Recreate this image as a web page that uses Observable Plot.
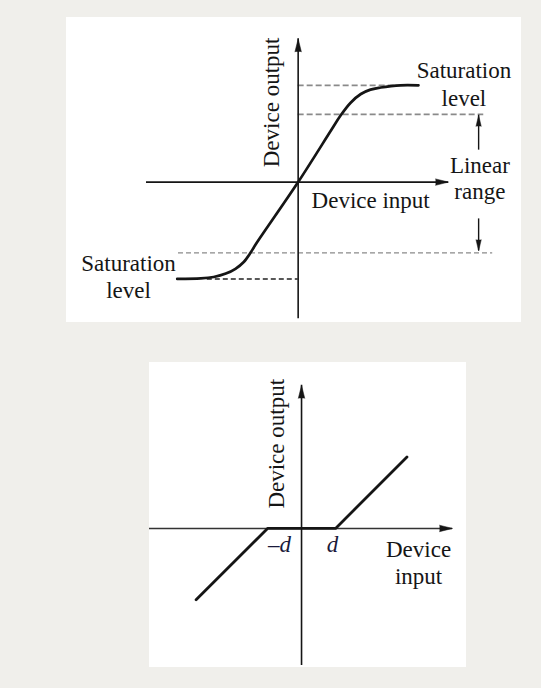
<!DOCTYPE html>
<html>
<head>
<meta charset="utf-8">
<script src="https://cdn.jsdelivr.net/npm/d3@7"></script>
<script src="https://cdn.jsdelivr.net/npm/@observablehq/plot@0.6"></script>
<style>
  html, body { margin: 0; padding: 0; background: #f0efeb; }
  #page { position: relative; width: 541px; height: 688px; background: #f0efeb; overflow: hidden; }
  .panel { position: absolute; background: #ffffff; }
  #top { left: 66px; top: 17px; width: 455px; height: 305px; }
  #bottom { left: 149px; top: 362px; width: 317px; height: 305px; }
  .panel svg { display: block; }
</style>
</head>
<body>
<div id="page">
  <div class="panel" id="top"></div>
  <div class="panel" id="bottom"></div>
</div>
<script>
// ---------- Top chart: saturation nonlinearity (normalized units) ----------
const topXDomain = [-3.62, 3.49];
const topYDomain = [-1.45, 1.70];
const satInput  = [-1.89, -1.52, -1.32, -1.13, -0.98, -0.85, -0.74, -0.66, 0, 0.51, 0.66, 0.82, 0.98, 1.13, 1.29, 1.45, 1.60, 1.88];
const satOutput = [-1.00, -0.995, -0.98, -0.945, -0.895, -0.825, -0.725, -0.64, 0, 0.53, 0.685, 0.82, 0.91, 0.955, 0.977, 0.992, 1.00, 1.00];
// upper dashed guide levels (gray)
const upperGuideLevel = [1.00, 0.70];
const upperGuideFrom  = [0.00, 0.00];
const upperGuideTo    = [1.55, 2.90];
// lower linear-range guide (gray, thin)
const lowerGuideLevel = [-0.73];
const lowerGuideFrom  = [-1.87];
const lowerGuideTo    = [3.04];
// lower saturation guide (dark)
const lowSatLevel = [-1.00];
const lowSatFrom  = [-1.42];
const lowSatTo    = [0.00];
// axes extents
const topAxisX = [-2.37, 2.35];
const topAxisY = [-1.41, 1.48];
// linear-range arrows
const rangeArrowX    = [2.82, 2.82];
const rangeArrowFrom = [0.33, -0.38];
const rangeArrowTo   = [0.69, -0.71];
const rangeArrowDir  = [0, 180];
// labels
const topLabelText = ["Saturation\nlevel", "Linear\nrange", "Device input", "Saturation\nlevel", "Device output"];
const topLabelX    = [2.59, 2.84, 0.21, -2.65, -0.30];
const topLabelY    = [0.79, -0.17, -0.27, -1.20, 0.823];

// ---------- Bottom chart: dead zone (units of d) ----------
const botXDomain = [-4.47, 4.85];
const botYDomain = [-4.09, 4.88];
const dzInput  = [-3.10, -1, 1, 3.10];
const dzOutput = [-2.10, 0, 0, 2.10];
const botAxisX = [-4.47, 4.44];
const botAxisY = [-4.03, 4.21];
const tickLabelText = ["\u2013d", "d"];
const tickLabelX    = [-0.65, 0.91];
const tickLabelY    = [-0.68, -0.68];
const botLabelText = ["Device\ninput", "Device output"];
const botLabelX    = [3.44, -0.52];
const botLabelY    = [-1.62, 2.49];

const FONT = "'Liberation Serif', 'Times New Roman', serif";
const INK = "#151515";

function tip(x, y, rot) { return {x, y, rot}; }

// ---- Top plot ----
const axisTipsTop = [tip(0, topAxisY[1], 0), tip(topAxisX[1], 0, 90)];
const rangeTips = rangeArrowX.map((x, i) => tip(x, rangeArrowTo[i], rangeArrowDir[i]));

const topPlot = Plot.plot({
  width: 455, height: 305,
  margin: 0,
  x: {domain: topXDomain, axis: null},
  y: {domain: topYDomain, axis: null},
  style: {background: "transparent", fontFamily: FONT, color: INK},
  marks: [
    Plot.ruleY(upperGuideLevel, {y: upperGuideLevel, x1: upperGuideFrom, x2: upperGuideTo, stroke: "#8a8a8a", strokeWidth: 1.8, strokeDasharray: "6,3"}),
    Plot.ruleY(lowerGuideLevel, {y: lowerGuideLevel, x1: lowerGuideFrom, x2: lowerGuideTo, stroke: "#8a8a8a", strokeWidth: 1.3, strokeDasharray: "5,3"}),
    Plot.ruleY(lowSatLevel, {y: lowSatLevel, x1: lowSatFrom, x2: lowSatTo, stroke: "#222", strokeWidth: 1.4, strokeDasharray: "5,3"}),
    Plot.ruleY([0], {x1: topAxisX[0], x2: topAxisX[1], stroke: INK, strokeWidth: 1.6}),
    Plot.ruleX([0], {y1: topAxisY[0], y2: topAxisY[1], stroke: INK, strokeWidth: 1.6}),
    Plot.vector(axisTipsTop, {x: "x", y: "y", rotate: "rot", length: 13, r: 3.2, anchor: "end", shape: "spike", fill: INK, stroke: INK, strokeWidth: 0.5}),
    Plot.ruleX(rangeArrowX, {x: rangeArrowX, y1: rangeArrowFrom, y2: rangeArrowTo, stroke: INK, strokeWidth: 1.4}),
    Plot.vector(rangeTips, {x: "x", y: "y", rotate: "rot", length: 11, r: 2.6, anchor: "end", shape: "spike", fill: INK, stroke: INK, strokeWidth: 0.5}),
    Plot.line(satInput, {x: satInput, y: satOutput, curve: "catmull-rom", stroke: INK, strokeWidth: 2.7}),
    Plot.text([topLabelText[0]], {x: [topLabelX[0]], y: [topLabelY[0]], text: d => d, fontSize: 23, lineHeight: 1.2, textAnchor: "middle", lineAnchor: "bottom", fill: INK}),
    Plot.text([topLabelText[1]], {x: [topLabelX[1]], y: [topLabelY[1]], text: d => d, fontSize: 23, lineHeight: 1.13, textAnchor: "middle", lineAnchor: "bottom", fill: INK}),
    Plot.text([topLabelText[2]], {x: [topLabelX[2]], y: [topLabelY[2]], text: d => d, fontSize: 23, textAnchor: "start", lineAnchor: "bottom", fill: INK}),
    Plot.text([topLabelText[3]], {x: [topLabelX[3]], y: [topLabelY[3]], text: d => d, fontSize: 23, lineHeight: 1.17, textAnchor: "middle", lineAnchor: "bottom", fill: INK}),
    Plot.text([topLabelText[4]], {x: [topLabelX[4]], y: [topLabelY[4]], text: d => d, fontSize: 23, rotate: -90, textAnchor: "middle", lineAnchor: "bottom", fill: INK})
  ]
});
document.getElementById("top").appendChild(topPlot);

// ---- Bottom plot ----
const axisTipsBot = [tip(0, botAxisY[1], 0), tip(botAxisX[1], 0, 90)];

const botPlot = Plot.plot({
  width: 317, height: 305,
  margin: 0,
  x: {domain: botXDomain, axis: null},
  y: {domain: botYDomain, axis: null},
  style: {background: "transparent", fontFamily: FONT, color: INK},
  marks: [
    Plot.ruleY([0], {x1: botAxisX[0], x2: botAxisX[1], stroke: "#333", strokeWidth: 1.6}),
    Plot.ruleX([0], {y1: botAxisY[0], y2: botAxisY[1], stroke: INK, strokeWidth: 1.6}),
    Plot.vector(axisTipsBot, {x: "x", y: "y", rotate: "rot", length: 13, r: 3.2, anchor: "end", shape: "spike", fill: INK, stroke: INK, strokeWidth: 0.5}),
    Plot.line(dzInput, {x: dzInput, y: dzOutput, stroke: INK, strokeWidth: 2.8}),
    Plot.text(tickLabelText, {x: tickLabelX, y: tickLabelY, text: d => d, fontSize: 23, fontStyle: "italic", textAnchor: "middle", lineAnchor: "bottom", fill: "#1a1a3a"}),
    Plot.text([botLabelText[0]], {x: [botLabelX[0]], y: [botLabelY[0]], text: d => d, fontSize: 23, lineHeight: 1.17, textAnchor: "middle", lineAnchor: "bottom", fill: INK}),
    Plot.text([botLabelText[1]], {x: [botLabelX[1]], y: [botLabelY[1]], text: d => d, fontSize: 23, rotate: -90, textAnchor: "middle", lineAnchor: "bottom", fill: INK})
  ]
});
document.getElementById("bottom").appendChild(botPlot);
</script>
</body>
</html>
